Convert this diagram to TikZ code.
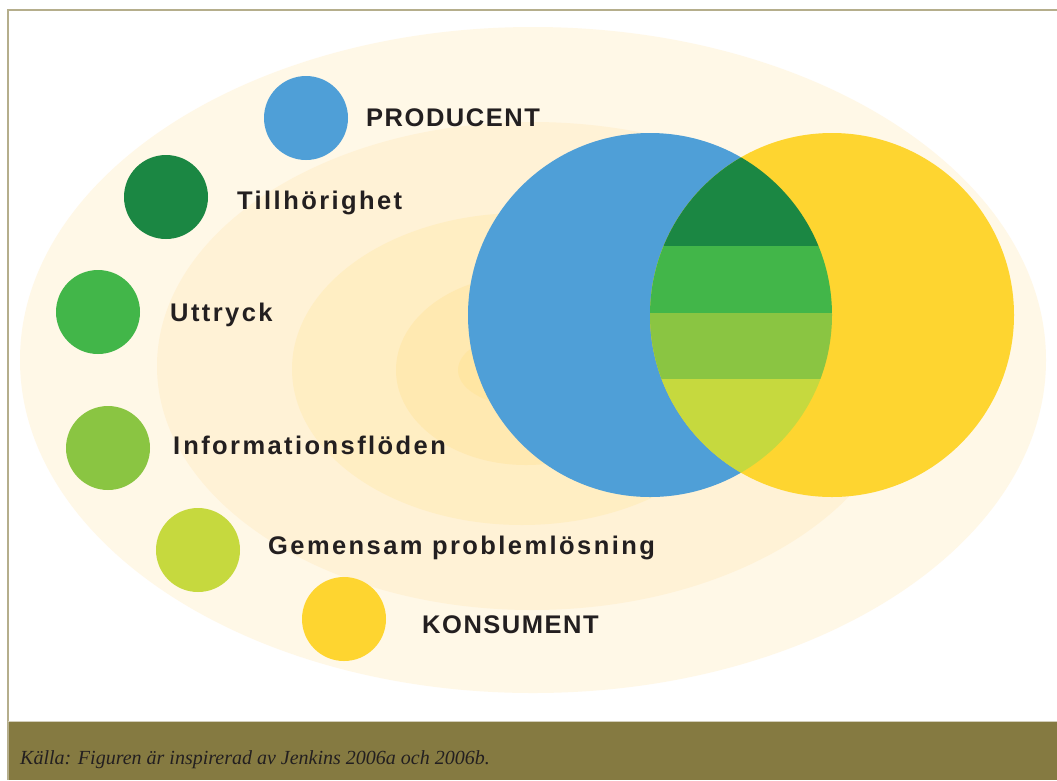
\documentclass[tikz,border=0pt]{standalone}
\usepackage{fontspec}
\usepackage{xcolor}
\usepackage{tikz}
\usetikzlibrary{positioning}
\setmainfont{Liberation Serif}
\newfontfamily\capsfont[LetterSpace=6]{Liberation Sans}
\newfontfamily\labelfont[LetterSpace=9.5]{Liberation Sans}

\definecolor{prodblue}{HTML}{4F9FD7}
\definecolor{konsyellow}{HTML}{FED530}
\definecolor{darkgrn}{HTML}{1B8743}
\definecolor{grn}{HTML}{42B649}
\definecolor{midgrn}{HTML}{8AC542}
\definecolor{limegrn}{HTML}{C6D93E}
\definecolor{ringA}{HTML}{FFF8E7}
\definecolor{ringB}{HTML}{FFF2D6}
\definecolor{ringC}{HTML}{FFEEC3}
\definecolor{ringD}{HTML}{FFE9B1}
\definecolor{ringE}{HTML}{FFE6A3}
\definecolor{framegray}{HTML}{B5AE8C}
\definecolor{barolive}{HTML}{857A41}
\definecolor{inktext}{HTML}{231F20}

\tikzset{
  dot/.style={circle, minimum size=84pt, inner sep=0pt},
  lbl/.style={anchor=base west, inner sep=0pt, text=inktext,
    font=\labelfont\bfseries\fontsize{25.5pt}{30pt}\selectfont},
  capslbl/.style={lbl, font=\capsfont\bfseries\fontsize{25.5pt}{30pt}\selectfont}
}

\begin{document}
\begin{tikzpicture}[x=1pt, y=-1pt]
\useasboundingbox (0,0) rectangle (1057,780);
\fill[white] (0,0) rectangle (1057,780);
% frame and caption bar
\fill[barolive] (8,721) rectangle (1060,780);
\draw[framegray, line width=1.5pt] (1060,10) -- (8,10) -- (8,780);
\draw[framegray!60, line width=1pt] (8,721) -- (1060,721);
\node[anchor=base west, inner sep=0pt, text=inktext,
  font=\itshape\fontsize{20pt}{24pt}\selectfont] (source) at (20,764)
  {Källa: Figuren är inspirerad av Jenkins 2006a och 2006b.};

% concentric rings
\fill[ringA] (533,360) ellipse [x radius=513, y radius=333];
\fill[ringB] (532,366) ellipse [x radius=375, y radius=244];
\fill[ringC] (522,369) ellipse [x radius=230, y radius=156];
\fill[ringD] (526,370) ellipse [x radius=130, y radius=95];
\fill[ringE] (528,370) ellipse [x radius=70, y radius=37];

% big circles
\fill[prodblue] (650,315) circle (182);
\fill[konsyellow] (832,315) circle (182);
\begin{scope}
  \clip (650,315) circle (182);
  \clip (832,315) circle (182);
  \fill[darkgrn] (460,120) rectangle (1020,246);
  \fill[grn] (460,246) rectangle (1020,313);
  \fill[midgrn] (460,313) rectangle (1020,379);
  \fill[limegrn] (460,379) rectangle (1020,500);
\end{scope}

% legend
\node[dot, fill=prodblue] (prod) at (306,118) {};
\node[dot, fill=darkgrn] (till) at (166,197) {};
\node[dot, fill=grn] (uttr) at (98,312) {};
\node[dot, fill=midgrn] (info) at (108,448) {};
\node[dot, fill=limegrn] (gem) at (198,550) {};
\node[dot, fill=konsyellow] (kons) at (344,619) {};

\node[capslbl] (prodlbl) at (366,126) {PRODUCENT};
\node[lbl] (tilllbl) at (237,209) {Tillhörighet};
\node[lbl] (uttrlbl) at (170,321) {Uttryck};
\node[lbl] (infolbl) at (173,454) {I\kern3pt nformationsflöden};
\node[lbl] (gemlbl) at (268,554) {Gemensam problemlösning};
\node[capslbl] (konslbl) at (422,633) {KONSUMENT};
\end{tikzpicture}
\end{document}
